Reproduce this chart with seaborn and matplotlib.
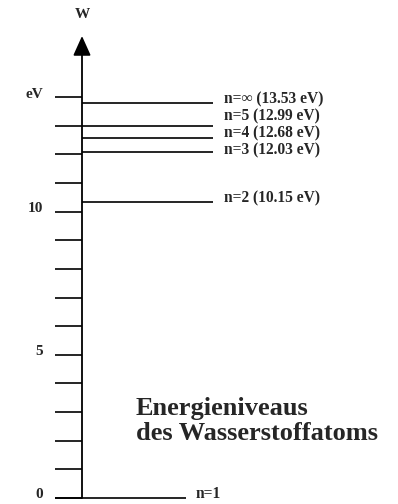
import numpy as np
import pandas as pd
import matplotlib.pyplot as plt
import seaborn as sns

# Energy levels of hydrogen (positions as drawn, in eV) and their labels
levels = [0.0, 10.33, 12.09, 12.58, 12.99, 13.78]
level_labels = ["n=1", "n=2 (10.15 eV)", "n=3 (12.03 eV)", "n=4 (12.68 eV)",
                "n=5 (12.99 eV)", "n=\u221e (13.53 eV)"]
tick_values = list(range(0, 15))
tick_labels = {0: "0", 5: "5", 10: "10", 14: "eV"}

# layout: label nudges in pixels (upwards)
label_nudge = [4, 4, 1.7, 4.5, 10, 4]

sns.set_theme(style="white")
plt.rcParams['font.family'] = 'serif'
plt.rcParams['font.serif'] = ['Liberation Serif', 'DejaVu Serif']
plt.rcParams['font.weight'] = 'bold'

fig = plt.figure(figsize=(3.98, 5.04), dpi=100)
ax = fig.add_axes([0, 0, 1, 1])
px = 28.64  # pixels per eV
ax.set_xlim(0, 398)
ax.set_ylim(-6 / px, 498 / px)
ax.axis("off")

df = pd.DataFrame({"E": levels, "label": level_labels, "nudge": label_nudge})

# tick marks on the left of the axis
ax.hlines(tick_values, 55, 82, color="black", lw=1.2)
for v, t in tick_labels.items():
    ax.text(43, v + 3 / px, t, ha="right", va="center", fontsize=11,
            fontweight="bold")

# vertical energy axis with arrow
ax.annotate("", xy=(82, (498 - 36) / px), xytext=(82, 0),
            arrowprops=dict(arrowstyle="-|>,head_length=1.0,head_width=0.45",
                            color="black", lw=1.3, shrinkA=0, shrinkB=0))
ax.text(82, (498 - 14) / px, "W", ha="center", va="center", fontsize=11,
        fontweight="bold")

# level lines
for i, row in df.iterrows():
    if i == 0:
        x0, x1, xt = 55, 186, 196
    else:
        x0, x1, xt = 82, 213, 224
    ax.hlines(row.E, x0, x1, color="black", lw=1.2)
    ax.annotate(row.label, xy=(xt, row.E), xytext=(0, row.nudge * 0.72),
                textcoords="offset points", ha="left", va="center",
                fontsize=11.2, fontweight="bold")

ax.text(136, (498 - 421) / px, "Energieniveaus\ndes Wasserstoffatoms",
        ha="left", va="center", fontsize=19, fontweight="bold", linespacing=1.1)

plt.savefig("out.png", dpi=100)
